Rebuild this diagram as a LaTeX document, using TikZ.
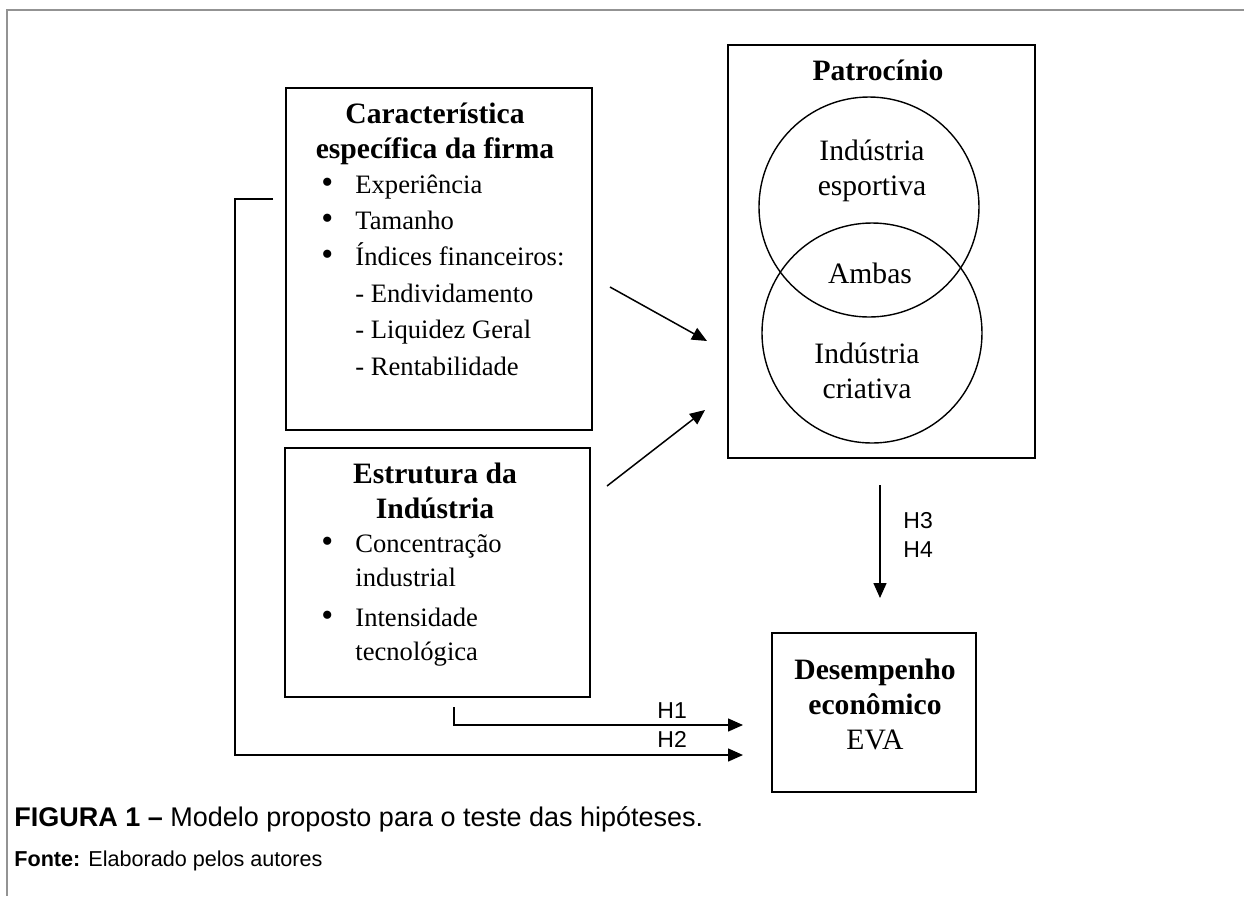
\documentclass[tikz,border=0pt]{standalone}
\usepackage{fontspec}
\setmainfont{Liberation Serif}
\setsansfont{Liberation Sans}
\usetikzlibrary{arrows.meta}

\newcommand{\bulit}{\makebox[17pt][l]{\fontsize{17}{17}\selectfont\textbullet}}
\newcommand{\indt}{\hspace*{17pt}}

\tikzset{
	frame/.style={draw=gray!85, line width=1pt},
	box/.style={draw, line width=0.9pt, inner sep=0pt},
	venn/.style={draw, circle, line width=0.7pt, inner sep=0pt, minimum size=110pt},
	head/.style={font=\fontsize{14.8}{17.5}\selectfont\bfseries, align=center, inner sep=0pt, anchor=base},
	plain/.style={font=\fontsize{14.8}{17.5}\selectfont, align=center, inner sep=0pt, anchor=base},
	items/.style={font=\fontsize{13.3}{18.2}\selectfont, align=left, inner sep=0pt, anchor=base west},
	hyp/.style={font=\sffamily\fontsize{11.5}{14}\selectfont, inner sep=0pt, anchor=base west},
	link/.style={line width=0.75pt, -{Triangle[length=7.5pt,width=6.5pt]}}
}

\begin{document}
\begin{tikzpicture}[x=0.5pt,y=-0.5pt]
\useasboundingbox (0,0) rectangle (1244,896);
\draw[frame] (1244,10) -- (7,10) -- (7,896);

% boxes
\node[box, minimum width=153pt, minimum height=171pt] (firma) at (439,259) {};
\node[box, minimum width=152.5pt, minimum height=124.5pt] (industria) at (437.5,572.5) {};
\node[box, minimum width=153.5pt, minimum height=206.5pt] (patrocinio) at (881.5,251.5) {};
\node[box, minimum width=102pt, minimum height=79.5pt] (desempenho) at (874,712.5) {};

% venn circles
\node[venn] (esportiva) at (869,207) {};
\node[venn] (criativa) at (872,333) {};

% texts (base = last line)
\node[head] (firmaT) at (435,158) {Característica\\específica da firma};
\node[items] (firmaL) at (321,375) {\bulit Experiência\\ \bulit Tamanho\\ \bulit Índices financeiros:\\
	\indt - Endividamento\\ \indt - Liquidez Geral\\ \indt - Rentabilidade};
\node[head] (industriaT) at (435,518) {Estrutura da\\Indústria};
\node[items, font=\fontsize{13.3}{17}\selectfont] (industriaL) at (321,660) {\bulit Concentração\\ \indt industrial\\[3pt]
	\bulit Intensidade\\ \indt tecnológica};
\node[head] (patrocinioT) at (878,80) {Patrocínio};
\node[plain] (esportivaT) at (872,195) {Indústria\\esportiva};
\node[plain] (ambas) at (870,283) {Ambas};
\node[plain] (criativaT) at (867,398) {Indústria\\criativa};
\node[head] (desempenhoT) at (875,749) {Desempenho\\econômico\\\mdseries EVA};

% hypotheses
\node[hyp] (h1) at (657,718) {H1};
\node[hyp] (h2) at (657,747) {H2};
\node[hyp] (h3) at (903,528) {H3};
\node[hyp] (h4) at (903,557) {H4};

% connectors
\coordinate (firmaOut) at (610,287);
\coordinate (patIn1) at (707,341);
\coordinate (industriaOut) at (607,486);
\coordinate (patIn2) at (705,410);
\coordinate (patOut) at (880,485);
\coordinate (desIn) at (880,598);
\coordinate (h1From) at (454,707);
\coordinate (h1To) at (743,725);
\coordinate (h2From) at (273,199);
\coordinate (h2To) at (743,755);
\draw[link] (firmaOut) -- (patIn1);
\draw[link] (industriaOut) -- (patIn2);
\draw[link] (patOut) -- (desIn);
\draw[link] (h1From) |- (h1To);
\draw[link] (h2From) -- ++(-38,0) |- (h2To);

% caption
\node[anchor=base west, font=\sffamily\fontsize{13.5}{16}\selectfont, inner sep=0pt] (caption) at (14,826)
	{\textbf{FIGURA 1 –} Modelo proposto para o teste das hipóteses.};
\node[anchor=base west, font=\sffamily\fontsize{10.8}{13}\selectfont, inner sep=0pt] (fonte) at (14,866)
	{\textbf{Fonte:} Elaborado pelos autores};
\end{tikzpicture}
\end{document}
